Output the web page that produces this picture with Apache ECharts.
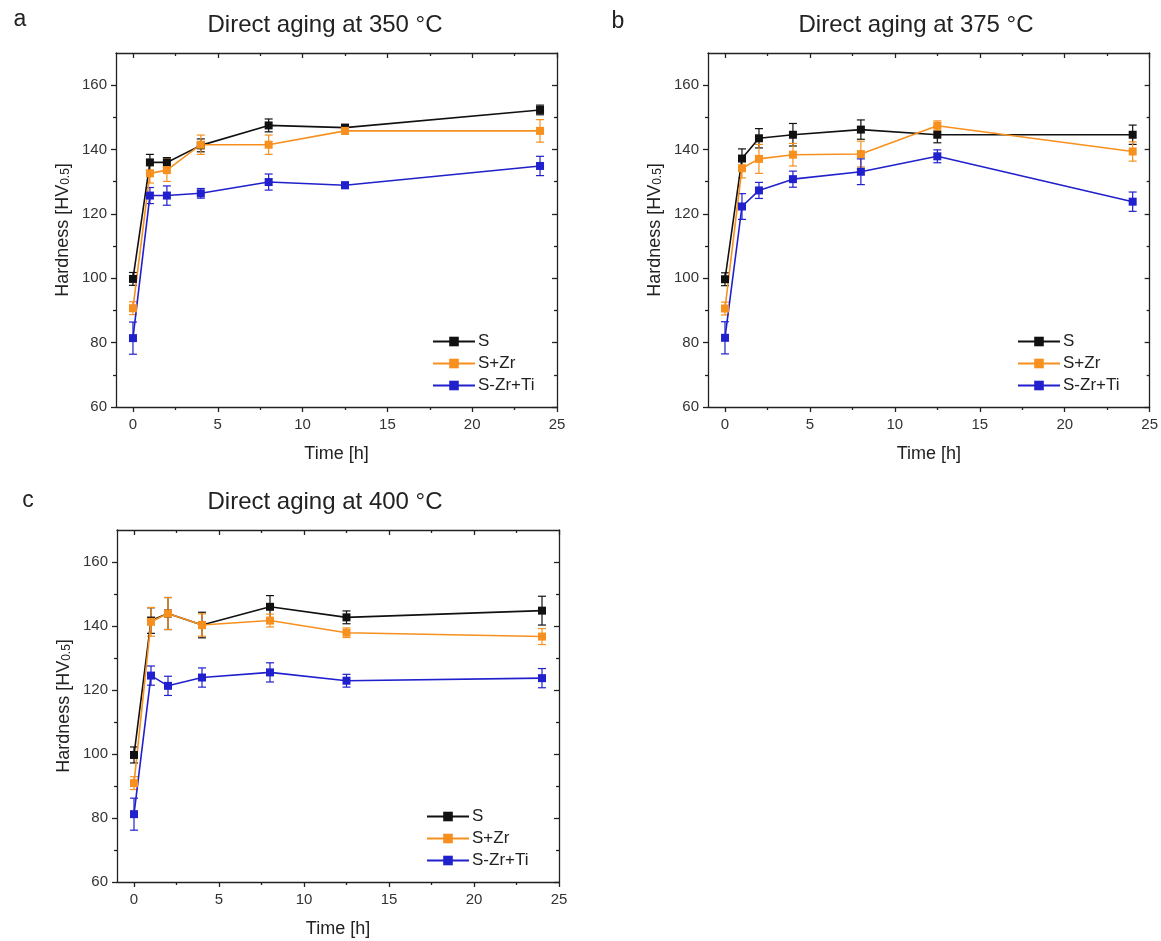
<!DOCTYPE html>
<html>
<head>
<meta charset="utf-8">
<script src="https://cdn.jsdelivr.net/npm/echarts@6/dist/echarts.min.js"></script>
<style>
  html, body { margin: 0; padding: 0; background: #fff; }
  #chart { width: 1161px; height: 941px; }
</style>
</head>
<body>
<div id="chart"></div>
<script>
// Aging times [h]
const TIMES = [0, 1, 2, 4, 8, 12.5, 24];
const SERIES_NAMES = ['S', 'S+Zr', 'S-Zr+Ti'];
const TITLES = ['Direct aging at 350 °C', 'Direct aging at 375 °C', 'Direct aging at 400 °C'];
const PANEL_LETTERS = ['a', 'b', 'c'];
const X_TICKS = [0, 5, 10, 15, 20, 25];
const X_MINOR = [2.5, 7.5, 12.5, 17.5, 22.5];
const Y_TICKS = [60, 80, 100, 120, 140, 160];
const Y_MINOR = [70, 90, 110, 130, 150];

// Hardness HV0.5 (mean) and standard deviation, 350 °C
const s350 = [99.8, 136.0, 136.0, 141.3, 147.5, 146.8, 152.3];
const s350Err = [2.0, 2.5, 1.5, 2.0, 2.0, 1.0, 1.5];
const zr350 = [90.7, 132.6, 133.6, 141.5, 141.5, 145.8, 145.8];
const zr350Err = [2.0, 3.0, 3.5, 3.0, 3.0, 1.0, 3.5];
const ti350 = [81.4, 125.7, 125.7, 126.4, 129.9, 128.9, 134.9];
const ti350Err = [5.0, 2.5, 3.0, 1.5, 2.5, 1.0, 3.0];

// 375 °C
const s375 = [99.7, 137.2, 143.5, 144.6, 146.2, 144.6, 144.6];
const s375Err = [2.0, 3.0, 3.0, 3.5, 3.0, 2.5, 3.0];
const zr375 = [90.6, 134.2, 137.1, 138.4, 138.6, 147.4, 139.4];
const zr375Err = [2.0, 3.0, 4.5, 3.5, 4.0, 1.5, 3.0];
const ti375 = [81.5, 122.3, 127.3, 130.8, 133.1, 137.9, 123.8];
const ti375Err = [5.0, 4.0, 2.5, 2.5, 4.0, 2.0, 3.0];

// 400 °C
const s400 = [99.7, 141.7, 143.9, 140.3, 146.0, 142.7, 144.8];
const s400Err = [2.5, 4.0, 5.0, 4.0, 3.5, 2.0, 4.5];
const zr400 = [90.9, 141.3, 143.9, 140.3, 141.7, 137.9, 136.7];
const zr400Err = [2.0, 4.5, 5.0, 3.5, 2.0, 1.5, 2.5];
const ti400 = [81.2, 124.5, 121.3, 123.9, 125.5, 122.9, 123.7];
const ti400Err = [5.0, 3.0, 3.0, 3.0, 3.0, 2.0, 3.0];

const PANELS = [
  { means: [s350, zr350, ti350], errs: [s350Err, zr350Err, ti350Err] },
  { means: [s375, zr375, ti375], errs: [s375Err, zr375Err, ti375Err] },
  { means: [s400, zr400, ti400], errs: [s400Err, zr400Err, ti400Err] }
];

const COLORS = ['#111111', '#f7901e', '#2020cc'];
const FONT = '"Liberation Sans", Arial, Helvetica, sans-serif';
const AXIS_COLOR = '#222';

// plot boxes
const GRIDS = [
  { left: 116, top: 53, width: 441, height: 354 },
  { left: 708, top: 53, width: 442, height: 354 },
  { left: 117, top: 530, width: 442, height: 352 }
];
const TITLE_POS = [[325, 25], [916, 25], [325, 502]];
const LETTER_POS = [[20, 20], [618, 22], [28, 501]];
const LEGEND_POS = [[427, 328], [1012, 328], [421, 803]];

const chart = echarts.init(document.getElementById('chart'), null, { renderer: 'canvas' });

const lineStyle = { color: AXIS_COLOR, width: 1.3 };
const xAxes = [], yAxes = [], series = [], legends = [], graphics = [];

GRIDS.forEach((g, gi) => {
  const xBase = xAxes.length, yBase = yAxes.length;
  // bottom axis with labels, outward major ticks
  xAxes.push({
    gridIndex: gi, type: 'value', min: -1, max: 25, position: 'bottom',
    axisLine: { show: true, onZero: false, lineStyle },
    axisTick: { show: true, inside: false, length: 5, customValues: X_TICKS, lineStyle },
    axisLabel: { show: true, customValues: X_TICKS, color: '#333', fontSize: 15, fontFamily: FONT, margin: 10 },
    splitLine: { show: false },
    name: 'Time [h]', nameLocation: 'middle', nameGap: 38,
    nameTextStyle: { fontSize: 18, color: '#222', fontFamily: FONT }
  });
  // bottom minor ticks
  xAxes.push({
    gridIndex: gi, type: 'value', min: -1, max: 25, position: 'bottom',
    axisLine: { show: false, onZero: false },
    axisTick: { show: true, inside: false, length: 3, customValues: X_MINOR, lineStyle },
    axisLabel: { show: false }, splitLine: { show: false }
  });
  // top frame, inward ticks
  xAxes.push({
    gridIndex: gi, type: 'value', min: -1, max: 25, position: 'top',
    axisLine: { show: true, onZero: false, lineStyle },
    axisTick: { show: true, inside: true, length: 5, customValues: X_TICKS, lineStyle },
    axisLabel: { show: false }, splitLine: { show: false }
  });
  xAxes.push({
    gridIndex: gi, type: 'value', min: -1, max: 25, position: 'top',
    axisLine: { show: false, onZero: false },
    axisTick: { show: true, inside: true, length: 3, customValues: X_MINOR, lineStyle },
    axisLabel: { show: false }, splitLine: { show: false }
  });

  // left axis with labels
  yAxes.push({
    gridIndex: gi, type: 'value', min: 60, max: 170, position: 'left',
    axisLine: { show: true, onZero: false, lineStyle },
    axisTick: { show: true, inside: false, length: 5, customValues: Y_TICKS, lineStyle },
    axisLabel: { show: true, customValues: Y_TICKS, color: '#333', fontSize: 15, fontFamily: FONT, margin: 9 },
    splitLine: { show: false },
    name: 'Hardness [HV{s|0.5}]', nameLocation: 'middle', nameGap: 44, nameRotate: 90,
    nameTextStyle: {
      fontSize: 18, color: '#222', fontFamily: FONT,
      rich: { s: { fontSize: 12, fontFamily: FONT, color: '#222', verticalAlign: 'bottom', lineHeight: 12 } }
    }
  });
  yAxes.push({
    gridIndex: gi, type: 'value', min: 60, max: 170, position: 'left',
    axisLine: { show: false, onZero: false },
    axisTick: { show: true, inside: false, length: 3, customValues: Y_MINOR, lineStyle },
    axisLabel: { show: false }, splitLine: { show: false }
  });
  // right frame, inward ticks
  yAxes.push({
    gridIndex: gi, type: 'value', min: 60, max: 170, position: 'right',
    axisLine: { show: true, onZero: false, lineStyle },
    axisTick: { show: true, inside: true, length: 5, customValues: Y_TICKS, lineStyle },
    axisLabel: { show: false }, splitLine: { show: false }
  });
  yAxes.push({
    gridIndex: gi, type: 'value', min: 60, max: 170, position: 'right',
    axisLine: { show: false, onZero: false },
    axisTick: { show: true, inside: true, length: 3, customValues: Y_MINOR, lineStyle },
    axisLabel: { show: false }, splitLine: { show: false }
  });

  const panel = PANELS[gi];
  SERIES_NAMES.forEach((name, si) => {
    const color = COLORS[si];
    const means = panel.means[si], errs = panel.errs[si];
    // error bars with caps
    series.push({
      type: 'custom', name: name + ' error', xAxisIndex: xBase, yAxisIndex: yBase,
      z: 3, silent: true,
      data: TIMES.map((t, i) => [t, means[i] - errs[i], means[i] + errs[i]]),
      encode: { x: 0, y: [1, 2] },
      renderItem: (params, api) => {
        const x = api.value(0);
        const lo = api.coord([x, api.value(1)]);
        const hi = api.coord([x, api.value(2)]);
        const cap = 4;
        const style = { stroke: color, lineWidth: 1.2 };
        return {
          type: 'group',
          children: [
            { type: 'line', shape: { x1: lo[0], y1: lo[1], x2: hi[0], y2: hi[1] }, style },
            { type: 'line', shape: { x1: lo[0] - cap, y1: lo[1], x2: lo[0] + cap, y2: lo[1] }, style },
            { type: 'line', shape: { x1: hi[0] - cap, y1: hi[1], x2: hi[0] + cap, y2: hi[1] }, style }
          ]
        };
      }
    });
    series.push({
      type: 'line', name, xAxisIndex: xBase, yAxisIndex: yBase,
      z: 4,
      data: TIMES.map((t, i) => [t, means[i]]),
      symbol: 'rect', symbolSize: 8, showSymbol: true,
      itemStyle: { color },
      lineStyle: { color, width: 1.6 },
      emphasis: { disabled: true }
    });
  });

  legends.push({
    data: SERIES_NAMES.slice(),
    orient: 'vertical',
    left: LEGEND_POS[gi][0], top: LEGEND_POS[gi][1],
    itemWidth: 42, itemHeight: 12, itemGap: 5,
    textStyle: { fontSize: 17, color: '#222', fontFamily: FONT, padding: [0, 0, 0, -2] },
    selectedMode: false
  });

  graphics.push({
    type: 'text', x: TITLE_POS[gi][0], y: TITLE_POS[gi][1],
    style: {
      text: TITLES[gi], fill: '#222', fontSize: 24, fontFamily: FONT,
      align: 'center', verticalAlign: 'middle', textAlign: 'center', textVerticalAlign: 'middle'
    }
  });
  graphics.push({
    type: 'text', x: LETTER_POS[gi][0], y: LETTER_POS[gi][1],
    style: {
      text: PANEL_LETTERS[gi], fill: '#222', fontSize: 23, fontFamily: FONT,
      align: 'center', verticalAlign: 'middle', textAlign: 'center', textVerticalAlign: 'middle'
    }
  });
});

chart.setOption({
  backgroundColor: '#ffffff',
  animation: false,
  grid: GRIDS.map(g => Object.assign({ containLabel: false }, g)),
  xAxis: xAxes,
  yAxis: yAxes,
  legend: legends,
  series,
  graphic: graphics
});
</script>
</body>
</html>
